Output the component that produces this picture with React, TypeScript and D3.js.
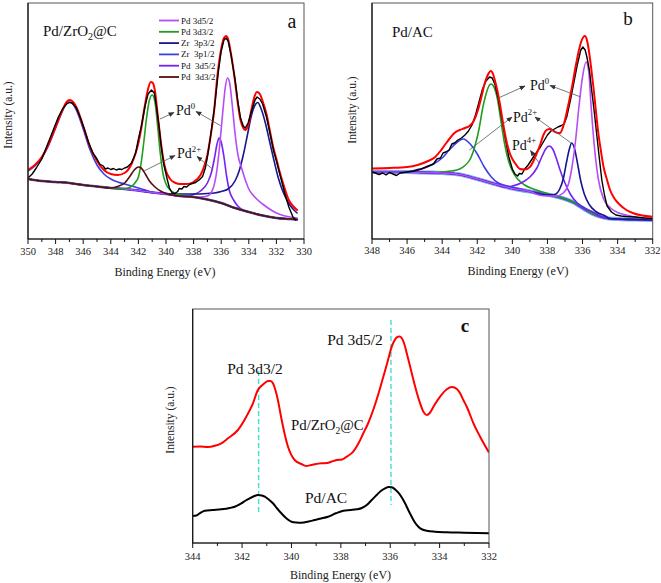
import React from 'react';
import * as d3 from 'd3';

type Pt = [number, number];

// ---------------- Panel a : Pd/ZrO2@C ----------------
const A_TICKS = [350, 348, 346, 344, 342, 340, 338, 336, 334, 332, 330];
const A_MINOR = [349, 347, 345, 343, 341, 339, 337, 335, 333, 331];

const A_BG: Pt[] = [[350,60],[349,58],[348,57],[347,56],[346,54],[345,52.5],[344,51],[343,50],[342,48.5],[341,46.5],[340,45],[339,43],[338,42],[337,39.5],[336,36],[335,31],[334,27],[333,23.5],[332,21],[331,20],[330.5,19.5]];

const A_RED: Pt[] = [[350,69],[349.5,74],[349,82],[348.5,95],[348,112],[347.5,129],[347.2,137],[347,139],[346.8,138],[346.5,132],[346,113],[345.5,92],[345,78],[344.5,69],[344,65],[343.5,64],[343,66],[342.5,75],[342.2,86],[342,96],[341.8,110],[341.55,132],[341.3,150],[341.1,157],[340.95,156],[340.8,148],[340.6,124],[340.4,100],[340.2,80],[340,68],[339.7,60],[339.3,56],[339,55],[338.5,55],[338,57],[337.5,64],[337.2,74],[337,84],[336.8,100],[336.5,130],[336.3,160],[336,190],[335.8,201],[335.65,203],[335.5,200],[335.3,186],[335,158],[334.8,136],[334.6,119],[334.4,111],[334.25,109],[334,116],[333.8,130],[333.6,142],[333.4,147],[333.2,145],[333,138],[332.7,124],[332.5,110],[332.2,90],[332,80],[331.8,69],[331.5,55],[331.1,39],[330.8,33],[330.5,29]];

const A_BLACK: Pt[] = [[350,61],[349.7,65],[349.4,71],[349,80],[348.6,94],[348.2,108],[347.8,122],[347.5,130],[347.2,135],[347,136.5],[346.8,136],[346.5,131],[346.2,121],[345.9,109],[345.6,96],[345.3,86],[345,80],[344.8,75],[344.55,73],[344.4,70],[344.2,71],[344,69.5],[343.8,70.5],[343.6,69],[343.4,70],[343.2,69.5],[343,71],[342.8,72],[342.5,76],[342.2,86],[342,100],[341.8,112],[341.5,134],[341.3,145],[341.05,149],[340.85,146],[340.7,133],[340.5,112],[340.35,93],[340.15,74],[339.9,59],[339.75,51],[339.55,46],[339.35,45.5],[339.15,47.5],[339.05,50.5],[338.85,50],[338.7,52.5],[338.5,52],[338.3,54.5],[338.1,55.5],[337.85,56.5],[337.6,59],[337.35,62.5],[337.15,71],[337,82],[336.8,100],[336.5,130],[336.2,168],[336,188],[335.8,199],[335.65,201],[335.5,198],[335.3,185],[335,160],[334.8,138],[334.6,121],[334.4,113],[334.25,111],[334.05,116],[333.8,128],[333.55,139],[333.4,142],[333.2,140],[333,135],[332.7,121],[332.5,108],[332.2,88],[332,78],[331.7,62],[331.4,46],[331.1,32],[330.8,22],[330.6,19]];

// components (peak parts; elsewhere they run on the background)
const A_PD0_52: Pt[] = [[338,42],[337.5,42],[337,43],[336.6,50],[336.3,70],[336.1,95],[335.9,125],[335.7,152],[335.55,161],[335.4,157],[335.2,134],[335,106],[334.8,85],[334.5,70],[334.2,57],[334,50],[333.5,41],[333,35],[332.5,30],[332,26],[331.5,23.5],[331,22],[330.5,21]];
const A_PD0_32: Pt[] = [[343,50.5],[342.5,52.5],[342.2,57],[342,62],[341.8,76],[341.6,98],[341.4,122],[341.2,139],[341,144],[340.8,137],[340.6,112],[340.4,84],[340.2,64],[340,55],[339.7,49],[339.3,45.5],[339,44]];
const A_ZR_32: Pt[] = [[340,45.5],[339,45],[338,45],[337,45.5],[336.5,46],[336,47.5],[335.5,50],[335,58],[334.7,68],[334.4,84],[334.1,104],[333.8,124],[333.5,135],[333.35,136.5],[333.1,130],[332.8,116],[332.5,98],[332.2,80],[331.9,63],[331.6,50],[331.2,38],[330.8,30],[330.5,26]];
const A_ZR_12: Pt[] = [[350,68],[349.5,73],[349,81],[348.5,94],[348,111],[347.5,128],[347.2,136],[347,137],[346.8,136],[346.5,129],[346,110],[345.5,89],[345,74],[344.5,65],[344,60],[343.5,57],[343,55],[342.5,53],[342,51],[341.5,49]];
const A_PD2_52: Pt[] = [[338.5,43],[338,44.5],[337.5,48],[337,56],[336.7,67],[336.5,80],[336.3,95],[336.15,101],[336,97],[335.8,82],[335.6,62],[335.4,48],[335.1,39],[334.8,33],[334.3,28],[334,27]];
const A_PD2_32: Pt[] = [[344,51],[343.5,52.5],[343,56],[342.6,63],[342.3,69],[342,72],[341.8,71],[341.5,65],[341.2,58],[340.8,52],[340.4,48],[340,45.5]];

const A_LEGEND = ['Pd 3d5/2', 'Pd 3d3/2', 'Zr  3p3/2', 'Zr  3p1/2', 'Pd  3d5/2', 'Pd  3d3/2'];

// ---------------- Panel b : Pd/AC ----------------
const B_TICKS = [348, 346, 344, 342, 340, 338, 336, 334, 332];
const B_MINOR = [347, 345, 343, 341, 339, 337, 335, 333];

const B_BG: Pt[] = [[348,67],[347,67],[346,67],[345,66.5],[344,66],[343,64.5],[342,60],[341,55],[340,50.5],[339,47.5],[338,44.5],[337,40],[336.5,36.5],[336,31],[335.5,26],[335,22.5],[334.5,20.5],[334,20],[333,19.5],[332,19]];

const B_RED: Pt[] = [[348,70.5],[347,71],[346,72],[345.4,74],[344.8,78],[344.4,82],[344.1,88],[343.85,94],[343.55,101],[343.3,106],[343,109],[342.7,111],[342.45,113],[342.2,118],[341.96,129],[341.75,143],[341.57,156],[341.4,164],[341.23,168],[341.1,165],[341,159],[340.85,148],[340.72,136],[340.55,118],[340.43,106],[340.3,95],[340.15,86],[340,80],[339.85,76],[339.56,70],[339.3,69.5],[339,72],[338.8,78],[338.6,86],[338.4,95],[338.23,104],[338.05,109],[337.85,110],[337.7,108.5],[337.56,107],[337.4,106],[337.28,106],[337.15,110],[337,119],[336.8,135],[336.6,152],[336.42,170],[336.24,186],[336.1,196],[335.95,202],[335.86,203],[335.75,199],[335.67,192],[335.5,170],[335.38,152],[335.25,130],[335.1,106],[334.95,88],[334.8,72],[334.6,59],[334.43,49],[334.2,41],[333.86,34],[333.5,29],[333.1,25.7],[332.6,23.5],[332,22.3]];

const B_BLACK: Pt[] = [[348,67],[347.8,66],[347.6,64.5],[347.4,66],[347.2,64],[347,66.5],[346.8,65],[346.6,63.5],[346.4,66],[346.2,66.5],[346,67],[345.6,68],[345.2,70],[344.8,73],[344.5,75],[344.3,80],[344.1,81],[343.95,86],[343.8,87],[343.6,89],[343.45,95],[343.3,96],[343.1,99],[342.9,101],[342.7,104],[342.5,108],[342.3,114],[342.1,124],[341.9,137],[341.7,150],[341.5,158],[341.3,162],[341.15,161],[341,155],[340.8,140],[340.6,120],[340.4,100],[340.2,82],[340,70],[339.85,65],[339.7,63],[339.6,65.5],[339.45,65],[339.3,70],[339.1,74],[338.8,82],[338.6,87],[338.4,92],[338.2,98],[338,104],[337.8,108],[337.6,110],[337.4,112],[337.2,113.5],[337.05,115],[336.9,122],[336.7,138],[336.5,156],[336.3,174],[336.1,189],[335.98,192],[335.85,189],[335.75,182],[335.6,168],[335.5,152],[335.35,130],[335.2,106],[335.05,82],[334.9,59],[334.75,44],[334.6,33],[334.35,27],[334.1,24],[333.8,23],[333.5,22.5],[333,22],[332.5,21],[332,20.5]];

const B_PD0_52: Pt[] = [[338.5,44],[338,43],[337.5,43],[337.1,46],[336.8,55],[336.6,72],[336.4,98],[336.2,133],[336,162],[335.8,177],[335.65,168],[335.5,130],[335.3,88],[335.1,60],[334.8,40],[334.4,31],[334,26.5],[333.5,24],[333,22],[332,20.5]];
const B_PD0_32: Pt[] = [[344,67],[343.5,68],[343,70],[342.7,73.5],[342.4,80],[342.1,95],[341.9,110],[341.7,130],[341.5,145],[341.3,154],[341.2,155],[341.05,152],[340.85,140],[340.65,118],[340.45,96],[340.25,80],[340,68],[339.7,60],[339.3,54],[338.8,50],[338.3,47],[337.8,44.5],[337.3,42],[336.8,39],[336.3,35],[336,32]];
const B_PD2_32: Pt[] = [[346,67],[345.5,69],[345,71],[344.5,75],[344,81],[343.6,89],[343.2,96],[342.8,100],[342.4,95],[342,85],[341.6,72],[341.2,62],[340.8,56],[340.3,53],[339.8,51],[339.3,49]];
const B_PD4_52: Pt[] = [[340.5,52],[340,53],[339.5,56],[339,62],[338.6,71],[338.3,83],[338.1,90],[337.9,93],[337.7,90],[337.5,81],[337.3,70],[337,56],[336.7,45],[336.3,36],[335.9,31],[335.4,27]];
const B_PD2_52: Pt[] = [[338.5,45],[338,44],[337.6,44.5],[337.3,50],[337.1,60],[336.9,78],[336.75,90],[336.62,96],[336.45,90],[336.3,77],[336.1,58],[335.9,45],[335.6,34],[335.2,27],[334.6,22]];

// ---------------- Panel c : comparison ----------------
const C_TICKS = [344, 342, 340, 338, 336, 334, 332];
const C_MINOR = [343, 341, 339, 337, 335, 333];
const C_MARKERS = [341.33, 335.97];

const C_ZRO2: Pt[] = [[344,96.3],[343.7,96.5],[343.4,96],[343.1,97.3],[342.84,99.7],[342.57,104.7],[342.17,113],[341.83,126.3],[341.56,139.7],[341.36,153],[341.22,157],[341.08,160],[340.95,162],[340.85,162],[340.75,159.7],[340.65,153],[340.55,143],[340.45,130],[340.34,116.3],[340.14,96.3],[339.87,83],[339.6,79],[339.4,77],[339.2,78],[339.06,78.7],[338.79,79.7],[338.55,80],[338.39,81.3],[338.17,83],[337.95,83.5],[337.76,86.3],[337.5,91.3],[337.3,99],[337.09,109.7],[336.89,120],[336.69,133],[336.48,149],[336.28,166.3],[336.1,182],[335.94,196.3],[335.84,202],[335.74,205.7],[335.63,206.5],[335.53,204.7],[335.43,199],[335.33,189.7],[335.2,177],[335.06,163],[334.92,150],[334.79,139.7],[334.65,131],[334.52,128],[334.4,130],[334.25,136.3],[333.98,146.3],[333.71,153.7],[333.5,156],[333.3,154],[333.17,149.7],[333.04,143],[332.9,136.3],[332.63,119.7],[332.36,106.3],[332.02,91.3]];

const C_AC: Pt[] = [[344,27],[343.85,27.5],[343.72,29.7],[343.51,32.3],[343.2,33],[342.84,33.7],[342.5,35],[342.3,36.3],[342.03,39.7],[341.85,42.5],[341.69,44.7],[341.5,47],[341.36,48],[341.2,47.5],[341.08,46.3],[340.9,43],[340.75,39.7],[340.58,34.5],[340.41,29.7],[340.2,24.5],[340,21.3],[339.8,20.5],[339.6,20.3],[339.3,21.5],[339.06,23],[338.8,24.5],[338.52,26.3],[338.2,29.7],[337.9,32.3],[337.6,33],[337.36,33.7],[337.15,35],[336.95,38],[336.75,43],[336.55,48],[336.38,52],[336.21,54.7],[336.05,55.9],[335.94,55.7],[335.8,53.5],[335.67,50.3],[335.53,45.5],[335.4,39.7],[335.26,32.5],[335.13,26.3],[335,20.5],[334.86,16.3],[334.7,13.5],[334.52,12.3],[334.2,11.3],[333.71,10.7],[333,10.3],[332.5,10],[332.02,9.7]];

// ---------------------------------------------------------------
const FONT = 'Liberation Serif, Times New Roman, serif';

const C_RED = '#ff0000';
const C_BLACK = '#000000';
const C_LPURPLE = '#b64cf8';
const C_GREEN = '#1f9e1f';
const C_NAVY = '#16168f';
const C_BLUE = '#3f3fe6';
const C_PURPLE = '#7421f2';
const C_BROWN = '#5c0c0c';

function withBg(peak: Pt[], bg: Pt[]): Pt[] {
  const hi = d3.max(peak, (d) => d[0]) as number;
  const lo = d3.min(peak, (d) => d[0]) as number;
  return [...bg.filter((d) => d[0] > hi), ...peak, ...bg.filter((d) => d[0] < lo)];
}

interface Series { data: Pt[]; color: string; width: number; linear?: boolean; opacity?: number }

interface PanelProps {
  id: string;
  left: number; right: number; top: number; bottom: number;
  xDomain: [number, number];
  ticks: number[]; minor: number[];
  series: Series[];
  tickLabelY: number;
  xLabel: [number, number];
  yLabel: [number, number];
  markers?: number[];
  children?: React.ReactNode;
}

function Panel(p: PanelProps) {
  const x = d3.scaleLinear().domain(p.xDomain).range([p.left, p.right]);
  const y = d3.scaleLinear().domain([0, p.bottom - p.top]).range([p.bottom, p.top]);
  return (
    <g>
      <defs>
        <clipPath id={p.id}>
          <rect x={p.left} y={p.top} width={p.right - p.left} height={p.bottom - p.top} />
        </clipPath>
      </defs>
      <g clipPath={`url(#${p.id})`}>
        {(p.markers || []).map((m, i) => (
          <line key={'m' + i} x1={x(m)} x2={x(m)} y1={i === 0 ? 371 : 320} y2={i === 0 ? 515 : 505}
            stroke="#3fe0d0" strokeWidth={1.4} strokeDasharray="5,3" />
        ))}
        {p.series.map((s, i) => {
          const line = d3.line<Pt>().x((d) => x(d[0])).y((d) => y(d[1]))
            .curve(s.linear ? d3.curveLinear : d3.curveMonotoneX);
          const sorted = [...s.data].sort((a, b) => b[0] - a[0]);
          return (
            <path key={i} d={line(sorted) || ''} fill="none" stroke={s.color} strokeWidth={s.width}
              strokeOpacity={s.opacity ?? 1} strokeLinejoin="round" strokeLinecap="round" />
          );
        })}
      </g>
      <rect x={p.left} y={p.top} width={p.right - p.left} height={p.bottom - p.top}
        fill="none" stroke="#555" strokeWidth={1} />
      <line x1={p.left} x2={p.right} y1={p.bottom} y2={p.bottom} stroke="#111" strokeWidth={1.2} />
      <line x1={p.left} x2={p.left} y1={p.top} y2={p.bottom} stroke="#111" strokeWidth={1.2} />
      {p.ticks.map((t) => (
        <g key={'t' + t}>
          <line x1={x(t)} x2={x(t)} y1={p.bottom} y2={p.bottom + 5} stroke="#111" strokeWidth={1} />
          <text x={x(t)} y={p.tickLabelY} textAnchor="middle" dominantBaseline="central"
            fontFamily={FONT} fontSize={10.5} fill="#222">{t}</text>
        </g>
      ))}
      {p.minor.map((t) => (
        <line key={'n' + t} x1={x(t)} x2={x(t)} y1={p.bottom} y2={p.bottom + 3} stroke="#111" strokeWidth={1} />
      ))}
      <text x={p.xLabel[0]} y={p.xLabel[1]} textAnchor="middle" dominantBaseline="central"
        fontFamily={FONT} fontSize={12} fill="#222">Binding Energy (eV)</text>
      <text transform={`translate(${p.yLabel[0]},${p.yLabel[1]}) rotate(-90)`} textAnchor="middle"
        dominantBaseline="central" fontFamily={FONT} fontSize={11.5} fill="#222">Intensity (a.u.)</text>
      {p.children}
    </g>
  );
}

function Arrow({ x1, y1, x2, y2 }: { x1: number; y1: number; x2: number; y2: number }) {
  return <line x1={x1} y1={y1} x2={x2} y2={y2} stroke="#555" strokeWidth={0.8} markerEnd="url(#arrowHead)" />;
}

function Sup({ x, y, base, sup, size = 14 }: { x: number; y: number; base: string; sup: string; size?: number }) {
  return (
    <text x={x} y={y} fontFamily={FONT} fontSize={size} fill="#111">
      {base}
      <tspan dy={-size * 0.45} fontSize={size * 0.62}>{sup}</tspan>
    </text>
  );
}

export default function App() {
  const aColors = [C_LPURPLE, C_GREEN, C_NAVY, C_BLUE, C_PURPLE, C_BROWN];
  const aSeries: Series[] = [
    { data: A_BG, color: C_BLUE, width: 2.4 },
    { data: withBg(A_ZR_12, A_BG), color: C_BLUE, width: 1.6 },
    { data: withBg(A_PD2_52, A_BG), color: C_PURPLE, width: 1.6 },
    { data: withBg(A_ZR_32, A_BG), color: C_NAVY, width: 1.6 },
    { data: withBg(A_PD0_52, A_BG), color: C_LPURPLE, width: 1.6 },
    { data: withBg(A_PD0_32, A_BG), color: C_GREEN, width: 1.6 },
    { data: withBg(A_PD2_32, A_BG), color: C_BROWN, width: 1.6 },
    { data: A_RED, color: C_RED, width: 2 },
    { data: A_BLACK, color: C_BLACK, width: 1.4, linear: true },
  ];
  const bSeries: Series[] = [
    { data: B_BG, color: '#7fa4f2', width: 4.2 },
    { data: B_BG, color: '#5a3ae8', width: 2 },
    { data: withBg(B_PD2_32, B_BG), color: C_BLUE, width: 1.6 },
    { data: withBg(B_PD0_32, B_BG), color: C_GREEN, width: 1.6 },
    { data: withBg(B_PD4_52, B_BG), color: C_PURPLE, width: 1.6 },
    { data: withBg(B_PD2_52, B_BG), color: C_NAVY, width: 1.6 },
    { data: withBg(B_PD0_52, B_BG), color: C_LPURPLE, width: 1.6 },
    { data: B_BLACK, color: C_BLACK, width: 1.4, linear: true },
    { data: B_RED, color: C_RED, width: 2 },
  ];
  const cSeries: Series[] = [
    { data: C_ZRO2, color: C_RED, width: 2 },
    { data: C_AC, color: C_BLACK, width: 2 },
  ];

  return (
    <svg width={661} height={583} style={{ position: 'absolute', left: 0, top: 0, background: '#fff' }}>
      <defs>
        <marker id="arrowHead" viewBox="0 0 10 10" refX={9} refY={5} markerWidth={6} markerHeight={6}
          markerUnits="userSpaceOnUse" orient="auto">
          <path d="M0,1 L10,5 L0,9 z" fill="#333" />
        </marker>
      </defs>
      <rect x={0} y={0} width={661} height={583} fill="#fff" />

      {/* Panel a */}
      <Panel id="clipA" left={28} right={304} top={3} bottom={239} xDomain={[350, 330]}
        ticks={A_TICKS} minor={A_MINOR} series={aSeries} tickLabelY={251} xLabel={[165, 272]} yLabel={[8, 115]}>
        <text x={43} y={36} fontFamily={FONT} fontSize={15} fill="#111">
          Pd/ZrO<tspan dy={4} fontSize={10}>2</tspan><tspan dy={-4}>@C</tspan>
        </text>
        <text x={292} y={28} textAnchor="middle" fontFamily={FONT} fontSize={20} fill="#111">a</text>
        {A_LEGEND.map((l, i) => (
          <g key={l + i}>
            <line x1={159} x2={179} y1={20.5 + i * 11.3} y2={20.5 + i * 11.3} stroke={aColors[i]} strokeWidth={1.8} />
            <text x={181} y={20.5 + i * 11.3} dominantBaseline="central" fontFamily={FONT} fontSize={9}
              fill="#111" style={{ whiteSpace: 'pre' }}>{l}</text>
          </g>
        ))}
        <Sup x={176} y={115} base="Pd" sup="0" size={14} />
        <Arrow x1={160} y1={119} x2={174} y2={112.5} />
        <Arrow x1={220.7} y1={125.7} x2={196} y2={111.5} />
        <Sup x={177} y={158} base="Pd" sup="2+" size={14} />
        <Arrow x1={144} y1={171} x2={175} y2={155.5} />
        <Arrow x1={211.7} y1={168.3} x2={197} y2={156.5} />
      </Panel>

      {/* Panel b */}
      <Panel id="clipB" left={372} right={652.7} top={3} bottom={239} xDomain={[348, 332]}
        ticks={B_TICKS} minor={B_MINOR} series={bSeries} tickLabelY={250} xLabel={[518, 271]} yLabel={[352, 110]}>
        <text x={392} y={37} fontFamily={FONT} fontSize={15} fill="#111">Pd/AC</text>
        <text x={628} y={25} textAnchor="middle" fontFamily={FONT} fontSize={19} fill="#111">b</text>
        <Sup x={530} y={90} base="Pd" sup="0" size={14} />
        <Arrow x1={497.7} y1={98.3} x2={525} y2={86} />
        <Arrow x1={580} y1={96.7} x2={550} y2={85.5} />
        <Sup x={513} y={121.5} base="Pd" sup="2+" size={14} />
        <Arrow x1={469.3} y1={150} x2={512} y2={117} />
        <Arrow x1={570.7} y1={142.7} x2={535} y2={117} />
        <Sup x={512} y={149.5} base="Pd" sup="4+" size={14} />
        <Arrow x1={539.3} y1={163.3} x2={530.5} y2={150.5} />
      </Panel>

      {/* Panel c */}
      <Panel id="clipC" left={192.7} right={489} top={309} bottom={543} xDomain={[344, 332]}
        ticks={C_TICKS} minor={C_MINOR} series={cSeries} tickLabelY={556} xLabel={[340.5, 575]} yLabel={[170, 420]}
        markers={C_MARKERS}>
        <text x={255} y={374} textAnchor="middle" fontFamily={FONT} fontSize={15.5} fill="#111">Pd 3d3/2</text>
        <text x={355} y={345} textAnchor="middle" fontFamily={FONT} fontSize={15.5} fill="#111">Pd 3d5/2</text>
        <text x={291} y={430} fontFamily={FONT} fontSize={14.8} fill="#111">
          Pd/ZrO<tspan dy={4} fontSize={9.5}>2</tspan><tspan dy={-4}>@C</tspan>
        </text>
        <text x={305} y={503} fontFamily={FONT} fontSize={15.5} fill="#111">Pd/AC</text>
        <text x={465} y={332} textAnchor="middle" fontFamily={FONT} fontSize={19} fontWeight="bold" fill="#111">c</text>
      </Panel>
    </svg>
  );
}
